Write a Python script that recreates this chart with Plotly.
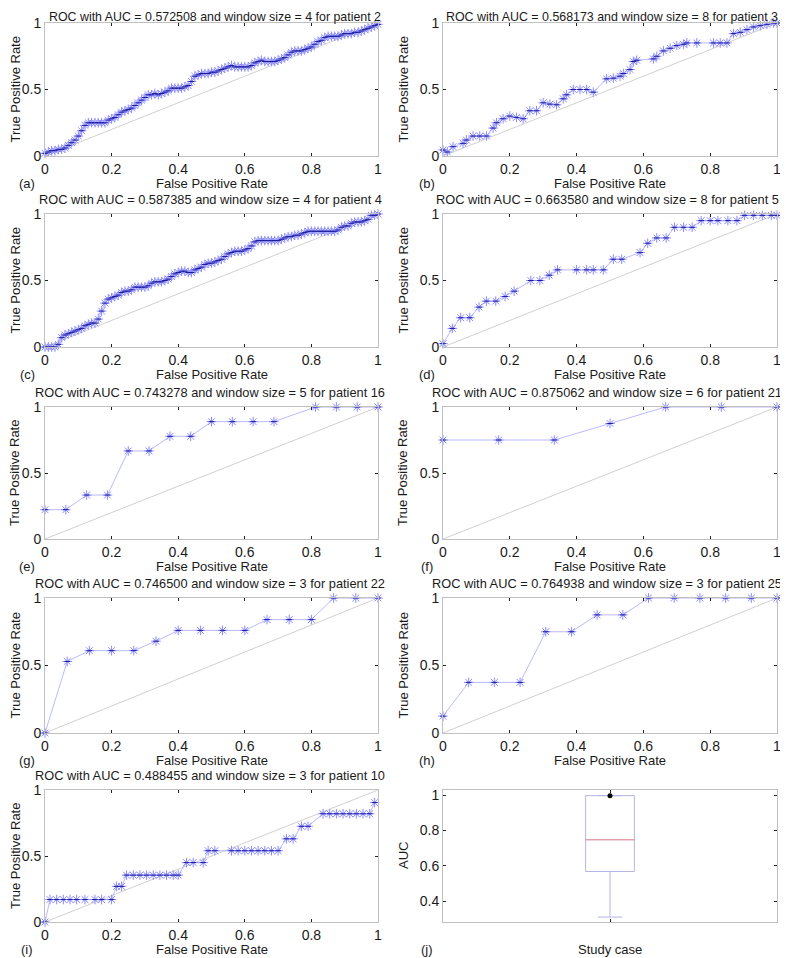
# ROC curves per patient (a-i) plus AUC boxplot (j)

import plotly.graph_objects as go
from plotly.subplots import make_subplots

# ---- data ----
patients = [2, 3, 4, 5, 16, 21, 22, 25, 10]
aucs = [0.572508, 0.568173, 0.587385, 0.663580, 0.743278, 0.875062, 0.746500, 0.764938, 0.488455]
windows = [4, 8, 4, 8, 5, 6, 3, 3, 3]
letters = ['(a)', '(b)', '(c)', '(d)', '(e)', '(f)', '(g)', '(h)', '(i)', '(j)']

diag = [0, 1]

# dense curves (patients 2 and 4) were read on a 0.01 grid
fpr_grid = [0.00, 0.01, 0.02, 0.03, 0.04, 0.05, 0.06, 0.07, 0.08, 0.09,
            0.10, 0.11, 0.12, 0.13, 0.14, 0.15, 0.16, 0.17, 0.18, 0.19,
            0.20, 0.21, 0.22, 0.23, 0.24, 0.25, 0.26, 0.27, 0.28, 0.29,
            0.30, 0.31, 0.32, 0.33, 0.34, 0.35, 0.36, 0.37, 0.38, 0.39,
            0.40, 0.41, 0.42, 0.43, 0.44, 0.45, 0.46, 0.47, 0.48, 0.49,
            0.50, 0.51, 0.52, 0.53, 0.54, 0.55, 0.56, 0.57, 0.58, 0.59,
            0.60, 0.61, 0.62, 0.63, 0.64, 0.65, 0.66, 0.67, 0.68, 0.69,
            0.70, 0.71, 0.72, 0.73, 0.74, 0.75, 0.76, 0.77, 0.78, 0.79,
            0.80, 0.81, 0.82, 0.83, 0.84, 0.85, 0.86, 0.87, 0.88, 0.89,
            0.90, 0.91, 0.92, 0.93, 0.94, 0.95, 0.96, 0.97, 0.98, 0.99,
            1.00]

tpr_a = [0.02, 0.03, 0.04, 0.04, 0.05, 0.05, 0.06, 0.08, 0.10, 0.12,
         0.15, 0.19, 0.23, 0.25, 0.25, 0.25, 0.25, 0.25, 0.25, 0.27,
         0.28, 0.29, 0.31, 0.33, 0.34, 0.35, 0.36, 0.38, 0.40, 0.42,
         0.44, 0.46, 0.46, 0.47, 0.46, 0.47, 0.48, 0.49, 0.51, 0.51,
         0.51, 0.51, 0.52, 0.53, 0.56, 0.60, 0.61, 0.62, 0.62, 0.62,
         0.63, 0.63, 0.64, 0.65, 0.66, 0.67, 0.68, 0.67, 0.67, 0.67,
         0.67, 0.67, 0.68, 0.70, 0.71, 0.72, 0.71, 0.71, 0.71, 0.71,
         0.72, 0.73, 0.74, 0.76, 0.78, 0.79, 0.79, 0.79, 0.80, 0.81,
         0.82, 0.84, 0.86, 0.87, 0.89, 0.90, 0.90, 0.90, 0.90, 0.91,
         0.92, 0.92, 0.92, 0.93, 0.93, 0.94, 0.95, 0.96, 0.97, 0.98,
         0.99]

fpr_b = [0.00, 0.013, 0.03, 0.06, 0.07, 0.09, 0.11, 0.13, 0.15, 0.16,
         0.18, 0.20, 0.22, 0.24, 0.26, 0.28, 0.30, 0.32, 0.34, 0.36,
         0.37, 0.39, 0.41, 0.43, 0.45, 0.49, 0.51, 0.53, 0.54, 0.56,
         0.57, 0.58, 0.63, 0.64, 0.66, 0.68, 0.70, 0.72, 0.73, 0.76,
         0.81, 0.83, 0.85, 0.87, 0.89, 0.91, 0.93, 0.95, 0.97, 0.99,
         1.00]
tpr_b = [0.045, 0.03, 0.07, 0.095, 0.12, 0.15, 0.15, 0.15, 0.21, 0.25,
         0.28, 0.30, 0.29, 0.28, 0.34, 0.34, 0.40, 0.39, 0.385, 0.43,
         0.46, 0.50, 0.50, 0.50, 0.48, 0.58, 0.585, 0.60, 0.62, 0.65,
         0.71, 0.72, 0.73, 0.75, 0.79, 0.81, 0.83, 0.84, 0.85, 0.85,
         0.85, 0.85, 0.85, 0.92, 0.93, 0.95, 0.97, 0.98, 0.99, 1.00,
         1.00]

tpr_c = [0.00, 0.00, 0.00, 0.00, 0.02, 0.07, 0.09, 0.10, 0.11, 0.12,
         0.13, 0.14, 0.16, 0.17, 0.18, 0.18, 0.21, 0.27, 0.33, 0.36,
         0.37, 0.38, 0.39, 0.41, 0.42, 0.42, 0.43, 0.45, 0.45, 0.45,
         0.45, 0.46, 0.48, 0.49, 0.49, 0.49, 0.50, 0.51, 0.53, 0.55,
         0.56, 0.57, 0.57, 0.56, 0.56, 0.58, 0.59, 0.60, 0.62, 0.63,
         0.63, 0.64, 0.65, 0.66, 0.68, 0.70, 0.71, 0.72, 0.72, 0.72,
         0.73, 0.74, 0.76, 0.79, 0.80, 0.80, 0.80, 0.80, 0.80, 0.80,
         0.80, 0.81, 0.82, 0.83, 0.83, 0.84, 0.84, 0.85, 0.86, 0.87,
         0.87, 0.87, 0.87, 0.87, 0.87, 0.87, 0.87, 0.87, 0.88, 0.90,
         0.91, 0.91, 0.93, 0.94, 0.94, 0.94, 0.95, 0.96, 0.99, 0.99,
         1.00]

fpr_d = [0.00, 0.028, 0.053, 0.08, 0.108, 0.13, 0.158, 0.186, 0.213, 0.263,
         0.29, 0.318, 0.343, 0.40, 0.43, 0.45, 0.48, 0.51, 0.535, 0.59,
         0.613, 0.64, 0.668, 0.693, 0.72, 0.746, 0.773, 0.80, 0.823, 0.853,
         0.88, 0.903, 0.93, 0.956, 0.983, 1.00]
tpr_d = [0.025, 0.14, 0.22, 0.22, 0.30, 0.345, 0.345, 0.38, 0.42, 0.50,
         0.50, 0.54, 0.58, 0.58, 0.58, 0.58, 0.58, 0.66, 0.66, 0.71,
         0.78, 0.82, 0.82, 0.90, 0.90, 0.90, 0.95, 0.95, 0.95, 0.95,
         0.95, 0.99, 0.99, 0.99, 0.99, 0.99]

fpr_e = [0.0, 0.0625, 0.125, 0.1875, 0.25, 0.3125, 0.375, 0.4375,
         0.5, 0.5625, 0.625, 0.6875, 0.8125, 0.875, 0.9375, 1.0]
tpr_e = [0.222, 0.222, 0.333, 0.333, 0.667, 0.667, 0.778, 0.778,
         0.889, 0.889, 0.889, 0.889, 1.0, 1.0, 1.0, 1.0]

fpr_f = [0.0, 0.1667, 0.3333, 0.5, 0.6667, 0.8333, 1.0]
tpr_f = [0.75, 0.75, 0.75, 0.875, 1.0, 1.0, 1.0]

fpr_g = [0.0, 0.0667, 0.1333, 0.2, 0.2667, 0.3333, 0.4, 0.4667,
         0.5333, 0.6, 0.6667, 0.7333, 0.8, 0.8667, 0.9333, 1.0]
tpr_g = [0.0, 0.53, 0.61, 0.61, 0.61, 0.68, 0.76, 0.76,
         0.76, 0.76, 0.84, 0.84, 0.84, 1.0, 1.0, 1.0]

fpr_h = [0.0, 0.0769, 0.1538, 0.2308, 0.3077, 0.3846, 0.4615,
         0.5385, 0.6154, 0.6923, 0.7692, 0.8462, 0.9231, 1.0]
tpr_h = [0.125, 0.375, 0.375, 0.375, 0.75, 0.75, 0.875,
         0.875, 1.0, 1.0, 1.0, 1.0, 1.0, 1.0]

fpr_i = [0.00, 0.015, 0.035, 0.055, 0.075, 0.095, 0.12, 0.15, 0.17, 0.20,
         0.215, 0.23, 0.245, 0.265, 0.285, 0.305, 0.325, 0.345, 0.365, 0.385,
         0.40, 0.425, 0.445, 0.475, 0.49, 0.51, 0.56, 0.58, 0.60, 0.62,
         0.64, 0.66, 0.68, 0.70, 0.725, 0.745, 0.77, 0.79, 0.835, 0.855,
         0.875, 0.895, 0.915, 0.935, 0.955, 0.975, 0.99]
tpr_i = [0.00, 0.17, 0.17, 0.17, 0.17, 0.17, 0.17, 0.17, 0.17, 0.17,
         0.27, 0.27, 0.355, 0.355, 0.355, 0.355, 0.355, 0.355, 0.355, 0.355,
         0.355, 0.45, 0.45, 0.45, 0.54, 0.54, 0.54, 0.54, 0.54, 0.54,
         0.54, 0.54, 0.54, 0.54, 0.63, 0.63, 0.725, 0.725, 0.82, 0.82,
         0.82, 0.82, 0.82, 0.82, 0.82, 0.82, 0.905]

# boxplot of AUC over study cases (panel j)
study_case = [1]
box_q1 = [0.568]
box_median = [0.748]
box_q3 = [0.998]
box_low = [0.31]
box_high = [0.998]
box_outliers = [0.998]

roc_curves = [(fpr_grid, tpr_a), (fpr_b, tpr_b), (fpr_grid, tpr_c), (fpr_d, tpr_d),
              (fpr_e, tpr_e), (fpr_f, tpr_f), (fpr_g, tpr_g), (fpr_h, tpr_h),
              (fpr_i, tpr_i)]

# ---- layout, in pixels of the 788x958 screen ----
# the page body has an 8px margin, so the figure is drawn 8px in from the corner
OFF = 8
W, H = 780, 950
col_px = [(45, 378), (443, 777)]
row_px = [(23, 156), (214, 347), (407, 539), (598, 733), (790, 922)]
title_cx = [210, 607]
top_title_cx = [215, 612]
ytitle_px = [15, 403]
letter_px = [27, 427]

FONT = 'Liberation Sans, Arial, sans-serif'
TXT = '#1a1a1a'
STAR = '#8a8aff'


def px_x(p):
    return (p - OFF) / W


def px_y(p):
    return 1 - (p - OFF) / H


fig = make_subplots(rows=5, cols=2)

for k, (fpr, tpr) in enumerate(roc_curves):
    r, c = k // 2 + 1, k % 2 + 1
    fig.add_trace(go.Scatter(x=diag, y=diag, mode='lines',
                             line=dict(color='#c4c4c4', width=0.8),
                             hoverinfo='skip'), row=r, col=c)
    fig.add_trace(go.Scatter(x=fpr, y=tpr, mode='lines+markers',
                             line=dict(color='#a8a8ff', width=0.8),
                             marker=dict(symbol='asterisk-open', size=8, color=STAR,
                                         line=dict(width=1, color=STAR)),
                             cliponaxis=False), row=r, col=c)
    fig.add_trace(go.Scatter(x=fpr, y=tpr, mode='markers',
                             marker=dict(symbol='line-ew-open', size=4, color='#1a1a9a',
                                         line=dict(width=1, color='#1a1a9a')),
                             cliponaxis=False), row=r, col=c)

# panel j
fig.add_trace(go.Box(x=study_case, q1=box_q1, median=box_median, q3=box_q3,
                     lowerfence=box_low, upperfence=box_high,
                     width=0.146, whiskerwidth=0.5, boxpoints=False,
                     line=dict(color='#b4b4e6', width=1),
                     fillcolor='rgba(0,0,0,0)'), row=5, col=2)
fig.add_trace(go.Scatter(x=study_case, y=box_median, mode='markers',
                         marker=dict(symbol='line-ew-open', size=35, color='#f09090',
                                     line=dict(width=1, color='#f09090'))),
              row=5, col=2)
fig.add_trace(go.Scatter(x=study_case, y=box_outliers, mode='markers',
                         marker=dict(symbol='circle', size=5, color='black'),
                         cliponaxis=False), row=5, col=2)

axis_style = dict(showgrid=False, zeroline=False, showline=True, linecolor='#c0c0c0',
                  linewidth=1, mirror='ticks', ticks='inside', ticklen=3,
                  tickcolor='#222222', tickwidth=1, automargin=False,
                  tickfont=dict(family=FONT, size=14, color=TXT))

annotations = []
for k in range(10):
    r, c = k // 2, k % 2
    n = '' if k == 0 else str(k + 1)
    x0, x1 = col_px[c]
    y0, y1 = row_px[r]
    xa = dict(axis_style, domain=[px_x(x0), px_x(x1)])
    ya = dict(axis_style, domain=[px_y(y1), px_y(y0)])
    if k < 9:
        xa.update(range=[0, 1], tickvals=[0, 0.2, 0.4, 0.6, 0.8, 1],
                  ticktext=['0', '0.2', '0.4', '0.6', '0.8', '1'])
        ya.update(range=[0, 1], tickvals=[0, 0.5, 1], ticktext=['0', '0.5', '1'])
        title = 'ROC with AUC = %.6f and window size = %d for patient %d' % (
            aucs[k], windows[k], patients[k])
        # top row titles cannot go above the page margin, so they hang from it
        # and sit a little right to clear the "1" tick label
        if r == 0:
            annotations.append(dict(text=title, x=px_x(top_title_cx[c]), y=px_y(OFF),
                                    yanchor='top', font=dict(size=12.4)))
        else:
            annotations.append(dict(text=title, x=px_x(title_cx[c]), y=px_y(y0 - 15),
                                    font=dict(size=12.8)))
        xlab, ylab = 'False Positive Rate', 'True Positive Rate'
    else:
        xa.update(range=[0.5, 1.5], tickvals=[1], showticklabels=False)
        ya.update(range=[0.282, 1.03], tickvals=[0.4, 0.6, 0.8, 1],
                  ticktext=['0.4', '0.6', '0.8', '1'])
        xlab, ylab = 'Study case', 'AUC'
    fig.layout['xaxis' + n].update(xa)
    fig.layout['yaxis' + n].update(ya)

    annotations.append(dict(text=xlab, x=px_x((x0 + x1) / 2), y=px_y(y1 + 27),
                            font=dict(size=13)))
    annotations.append(dict(text=letters[k], x=px_x(letter_px[c]), y=px_y(y1 + 27),
                            font=dict(size=13)))
    annotations.append(dict(text=ylab, x=px_x(ytitle_px[c]), y=px_y((y0 + y1) / 2),
                            textangle=-90, font=dict(size=13)))

for a in annotations:
    a.update(xref='paper', yref='paper', showarrow=False, xanchor='center')
    a.setdefault('yanchor', 'middle')
    a['font'].update(family=FONT, color=TXT)

fig.update_layout(
    width=W, height=H,
    margin=dict(l=0, r=0, t=0, b=0),
    paper_bgcolor='white', plot_bgcolor='white',
    showlegend=False,
    annotations=annotations,
    font=dict(family=FONT, color=TXT),
)

fig.write_html("out.html")
